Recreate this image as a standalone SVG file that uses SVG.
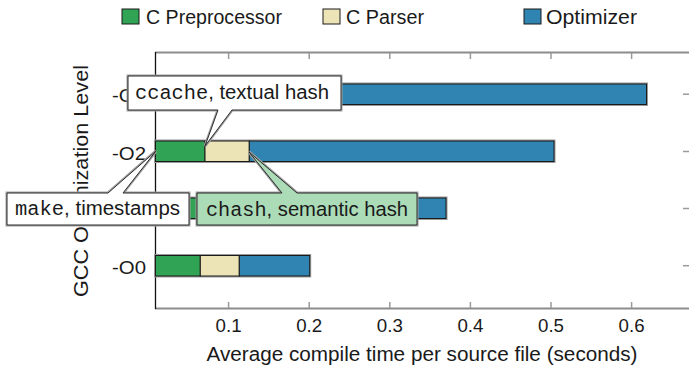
<svg xmlns="http://www.w3.org/2000/svg" width="689" height="369" viewBox="0 0 689 369">
<style>
text{font-family:"Liberation Sans","DejaVu Sans",sans-serif;fill:#1a1a1a;font-size:19px}
.big{font-size:20px}
.mono{font-family:"Liberation Mono","DejaVu Sans Mono",monospace}
.seg{stroke:#1a1a1a;stroke-width:1}
.halo{fill:none;stroke:#9a9a9a;stroke-width:3}
.pp{fill:#31a354}.cp{fill:#ece3b6}.op{fill:#2f84b1}
.tick{stroke:#9a9a9a;stroke-width:1.5}
.frame{stroke:#8c8c8c;stroke-width:2;fill:none}
.call{stroke:#2a2a2a;stroke-width:1}
.callhalo{fill:none;stroke:#a0a0a0;stroke-width:3;stroke-linejoin:miter}
</style>
<g id="legend">
<rect x="122" y="9" width="17" height="15" class="pp seg"/>
<text x="146" y="24" class="big" textLength="136" lengthAdjust="spacingAndGlyphs">C Preprocessor</text>
<rect x="323" y="9" width="17" height="15" class="cp seg"/>
<text x="346" y="24" class="big" textLength="78" lengthAdjust="spacingAndGlyphs">C Parser</text>
<rect x="524" y="9" width="17" height="15" class="op seg"/>
<text x="546" y="24" class="big" textLength="91" lengthAdjust="spacingAndGlyphs">Optimizer</text>
</g>
<g id="axes">
<line x1="155" y1="52.5" x2="692" y2="52.5" class="frame"/>
<line x1="155" y1="308.5" x2="692" y2="308.5" class="frame"/>
<g class="tick">
<line x1="228.6" y1="53" x2="228.6" y2="59"/><line x1="309.2" y1="53" x2="309.2" y2="59"/><line x1="389.8" y1="53" x2="389.8" y2="59"/><line x1="470.4" y1="53" x2="470.4" y2="59"/><line x1="551" y1="53" x2="551" y2="59"/><line x1="631.6" y1="53" x2="631.6" y2="59"/>
<line x1="228.6" y1="308" x2="228.6" y2="302"/><line x1="309.2" y1="308" x2="309.2" y2="302"/><line x1="389.8" y1="308" x2="389.8" y2="302"/><line x1="470.4" y1="308" x2="470.4" y2="302"/><line x1="551" y1="308" x2="551" y2="302"/><line x1="631.6" y1="308" x2="631.6" y2="302"/>
<line x1="683" y1="94.2" x2="690" y2="94.2"/><line x1="683" y1="151.5" x2="690" y2="151.5"/><line x1="683" y1="208.5" x2="690" y2="208.5"/><line x1="683" y1="265.7" x2="690" y2="265.7"/>
</g>
<line x1="155.5" y1="52" x2="155.5" y2="309" stroke="#111" stroke-width="1.3"/>
<g text-anchor="middle" class="big">
<text x="228.6" y="332" textLength="26" lengthAdjust="spacingAndGlyphs">0.1</text><text x="309.2" y="332" textLength="26" lengthAdjust="spacingAndGlyphs">0.2</text><text x="389.8" y="332" textLength="26" lengthAdjust="spacingAndGlyphs">0.3</text><text x="470.4" y="332" textLength="26" lengthAdjust="spacingAndGlyphs">0.4</text><text x="551" y="332" textLength="26" lengthAdjust="spacingAndGlyphs">0.5</text><text x="631.6" y="332" textLength="26" lengthAdjust="spacingAndGlyphs">0.6</text>
</g>
<g text-anchor="end" class="big">
<text x="146" y="102" textLength="34" lengthAdjust="spacingAndGlyphs">-O3</text><text x="146" y="159.5" textLength="34" lengthAdjust="spacingAndGlyphs">-O2</text><text x="146" y="216.5" textLength="34" lengthAdjust="spacingAndGlyphs">-O1</text><text x="146" y="273.5" textLength="34" lengthAdjust="spacingAndGlyphs">-O0</text>
</g>
<text x="206.5" y="361" class="big" textLength="431" lengthAdjust="spacingAndGlyphs">Average compile time per source file (seconds)</text>
<text transform="translate(88 181) rotate(-90)" class="big" text-anchor="middle" textLength="232" lengthAdjust="spacingAndGlyphs">GCC Optimization Level</text>
</g>
<g id="bar-O3">
<rect x="155.5" y="84" width="491" height="20.5" class="halo"/>
<rect x="155.5" y="84" width="50" height="20.5" class="pp seg"/>
<rect x="205.5" y="84" width="44" height="20.5" class="cp seg"/>
<rect x="249.5" y="84" width="397" height="20.5" class="op seg"/>
</g>
<g id="bar-O2">
<rect x="155.5" y="141" width="398.5" height="20.5" class="halo"/>
<rect x="155.5" y="141" width="49.5" height="20.5" class="pp seg"/>
<rect x="205" y="141" width="44.3" height="20.5" class="cp seg"/>
<rect x="249.3" y="141" width="304.7" height="20.5" class="op seg"/>
</g>
<g id="bar-O1">
<rect x="155.5" y="198" width="290.5" height="20.5" class="halo"/>
<rect x="155.5" y="198" width="47" height="20.5" class="pp seg"/>
<rect x="202.5" y="198" width="42" height="20.5" class="cp seg"/>
<rect x="244.5" y="198" width="201.5" height="20.5" class="op seg"/>
</g>
<g id="bar-O0">
<rect x="155.5" y="255.5" width="154.2" height="20.5" class="halo"/>
<rect x="155.5" y="255.5" width="44.8" height="20.5" class="pp seg"/>
<rect x="200.3" y="255.5" width="39" height="20.5" class="cp seg"/>
<rect x="239.3" y="255.5" width="70.4" height="20.5" class="op seg"/>
</g>
<g id="connectors">
<g id="callout-ccache">
<path d="M128,76 H341 V110 H232 L205,146 L218,110 H128 Z" class="callhalo"/>
<path d="M128,76 H341 V110 H232 L205,146 L218,110 H128 Z" fill="#fff" class="call"/>
<text x="135" y="99" class="big" textLength="194" lengthAdjust="spacingAndGlyphs"><tspan class="mono">ccache</tspan>, textual hash</text>
</g>
<g id="callout-make">
<path d="M7,193 H108 L156,151 L123,193 H189 V225 H7 Z" class="callhalo"/>
<path d="M7,193 H108 L156,151 L123,193 H189 V225 H7 Z" fill="#fff" class="call"/>
<text x="15" y="214.5" class="big" textLength="165" lengthAdjust="spacingAndGlyphs"><tspan class="mono">make</tspan>, timestamps</text>
</g>
<g id="callout-chash">
<path d="M197,193 H282 L249,152 L297,193 H417 V225 H197 Z" class="callhalo"/>
<path d="M197,193 H282 L249,152 L297,193 H417 V225 H197 Z" fill="#acdbb8" class="call"/>
<text x="206" y="215.5" class="big" textLength="202" lengthAdjust="spacingAndGlyphs"><tspan class="mono">chash</tspan>, semantic hash</text>
</g>
</g>
</svg>
